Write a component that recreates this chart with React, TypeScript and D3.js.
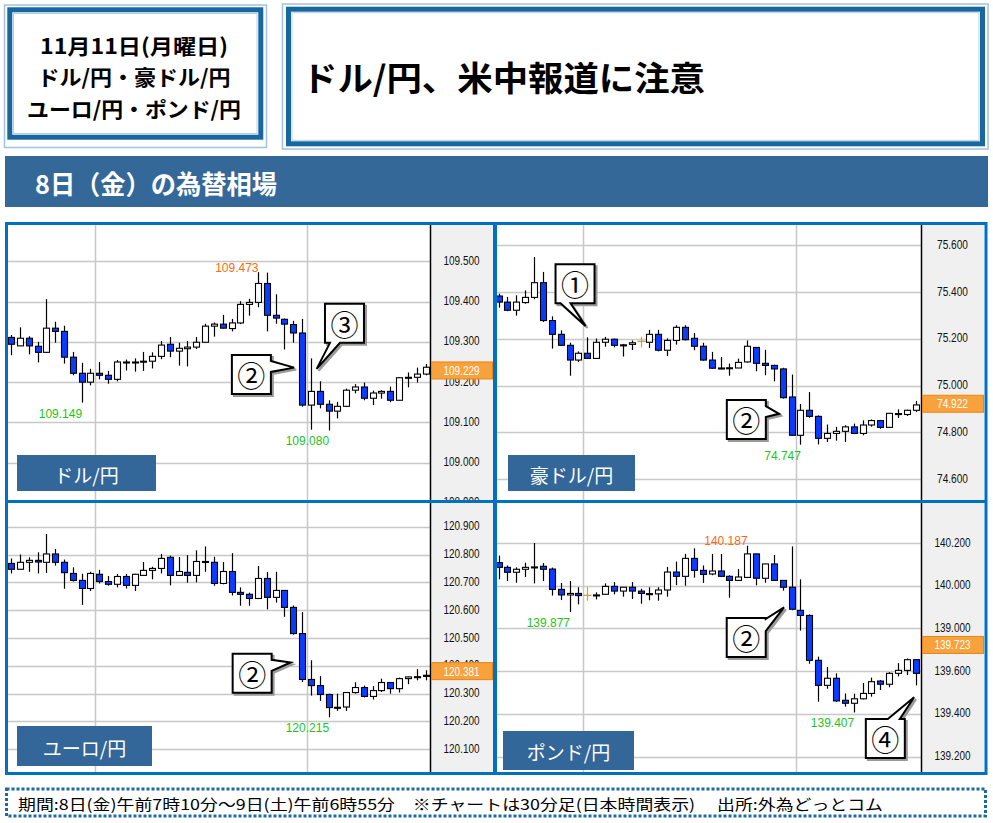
import React from 'react';
import * as d3 from 'd3';

// ---------- DATA ----------
const usdjpyOpen = [109.311,109.290,109.309,109.289,109.274,109.334,109.326,109.262,109.222,109.200,109.222,109.217,109.207,109.250,109.249,109.250,109.252,109.264,109.294,109.277,109.283,109.287,109.299,109.339,109.344,109.333,109.347,109.393,109.398,109.445,109.366,109.356,109.343,109.322,109.143,109.177,109.145,109.128,109.140,109.180,109.188,109.160,109.173,109.177,109.155,109.211,109.212,109.220];
const usdjpyHigh = [109.317,109.336,109.314,109.300,109.406,109.350,109.340,109.275,109.248,109.233,109.250,109.228,109.255,109.256,109.259,109.275,109.274,109.302,109.312,109.298,109.302,109.312,109.345,109.348,109.367,109.357,109.401,109.407,109.473,109.472,109.418,109.358,109.352,109.357,109.259,109.202,109.155,109.151,109.184,109.195,109.199,109.179,109.180,109.189,109.212,109.224,109.236,109.245];
const usdjpyLow = [109.267,109.290,109.269,109.249,109.273,109.298,109.246,109.217,109.149,109.192,109.207,109.196,109.202,109.229,109.226,109.228,109.234,109.257,109.262,109.241,109.239,109.282,109.299,109.313,109.333,109.326,109.344,109.365,109.386,109.326,109.345,109.281,109.298,109.139,109.082,109.135,109.080,109.110,109.138,109.172,109.155,109.143,109.159,109.150,109.155,109.187,109.199,109.217];
const usdjpyClose = [109.294,109.309,109.290,109.274,109.334,109.326,109.262,109.222,109.200,109.222,109.217,109.207,109.250,109.249,109.250,109.252,109.264,109.292,109.277,109.284,109.287,109.299,109.339,109.344,109.334,109.347,109.393,109.398,109.445,109.366,109.359,109.344,109.322,109.143,109.177,109.145,109.128,109.140,109.180,109.188,109.160,109.173,109.177,109.155,109.211,109.212,109.220,109.237];

const audjpyOpen = [75.383,75.357,75.322,75.355,75.377,75.440,75.278,75.219,75.172,75.109,75.138,75.116,75.185,75.198,75.174,75.176,75.189,75.185,75.219,75.151,75.193,75.249,75.202,75.168,75.109,75.075,75.075,75.075,75.101,75.163,75.095,75.086,75.071,74.951,74.787,74.894,74.868,74.774,74.795,74.804,74.823,74.795,74.831,74.850,74.821,74.880,74.876,74.894];
const audjpyHigh = [75.393,75.379,75.386,75.407,75.550,75.486,75.296,75.236,75.183,75.146,75.206,75.201,75.208,75.201,75.178,75.193,75.209,75.238,75.238,75.202,75.258,75.258,75.225,75.183,75.144,75.122,75.094,75.115,75.193,75.163,75.153,75.089,75.076,75.047,74.921,74.972,74.872,74.833,74.823,74.830,74.837,74.851,74.855,74.853,74.882,74.898,74.897,74.934];
const audjpyLow = [75.333,75.318,75.299,75.350,75.369,75.272,75.158,75.169,75.042,75.101,75.114,75.116,75.166,75.163,75.124,75.152,75.163,75.161,75.146,75.126,75.175,75.193,75.151,75.106,75.071,75.069,75.042,75.075,75.098,75.061,75.044,75.018,74.944,74.784,74.747,74.862,74.748,74.758,74.764,74.758,74.792,74.787,74.824,74.815,74.820,74.861,74.870,74.887];
const audjpyClose = [75.357,75.322,75.357,75.377,75.440,75.278,75.219,75.172,75.109,75.138,75.116,75.185,75.198,75.172,75.173,75.183,75.189,75.219,75.151,75.193,75.249,75.196,75.168,75.109,75.074,75.074,75.076,75.099,75.168,75.095,75.086,75.071,74.948,74.787,74.894,74.868,74.774,74.795,74.804,74.823,74.795,74.831,74.850,74.821,74.881,74.877,74.894,74.917];

const eurjpyOpen = [120.768,120.747,120.772,120.779,120.772,120.802,120.772,120.732,120.707,120.678,120.729,120.703,120.693,120.721,120.689,120.725,120.743,120.750,120.790,120.725,120.736,120.725,120.775,120.772,120.696,120.739,120.664,120.657,120.642,120.714,120.646,120.671,120.610,120.516,120.351,120.329,120.297,120.251,120.252,120.304,120.322,120.290,120.311,120.340,120.318,120.354,120.360,120.362];
const eurjpyHigh = [120.786,120.800,120.790,120.808,120.874,120.820,120.782,120.754,120.731,120.738,120.745,120.723,120.730,120.730,120.731,120.773,120.756,120.802,120.796,120.791,120.798,120.815,120.829,120.792,120.773,120.805,120.682,120.663,120.759,120.737,120.738,120.671,120.617,120.593,120.420,120.363,120.300,120.300,120.305,120.341,120.329,120.327,120.354,120.342,120.358,120.361,120.388,120.384];
const eurjpyLow = [120.732,120.747,120.738,120.732,120.734,120.760,120.677,120.703,120.619,120.669,120.696,120.688,120.682,120.678,120.669,120.723,120.711,120.732,120.689,120.725,120.699,120.700,120.738,120.688,120.693,120.653,120.616,120.616,120.640,120.603,120.627,120.576,120.512,120.342,120.293,120.274,120.215,120.238,120.238,120.300,120.286,120.279,120.306,120.300,120.304,120.334,120.348,120.348];
const eurjpyClose = [120.747,120.772,120.779,120.773,120.802,120.772,120.735,120.707,120.678,120.732,120.703,120.693,120.721,120.689,120.729,120.743,120.750,120.786,120.725,120.739,120.725,120.775,120.774,120.696,120.739,120.664,120.657,120.642,120.714,120.646,120.671,120.610,120.516,120.351,120.329,120.297,120.250,120.250,120.304,120.322,120.290,120.311,120.340,120.318,120.354,120.360,120.361,120.366];

const gbpjpyOpen = [140.108,140.086,140.063,140.077,140.087,140.091,140.078,139.983,139.957,139.964,139.955,139.955,139.960,139.997,139.975,139.993,139.975,139.963,139.962,139.980,140.064,140.044,140.128,140.072,140.055,140.069,140.044,140.025,140.039,140.149,140.035,140.102,140.025,139.993,139.885,139.861,139.651,139.534,139.567,139.464,139.450,139.471,139.496,139.554,139.539,139.590,139.604,139.654];
const gbpjpyHigh = [140.141,140.095,140.086,140.108,140.200,140.106,140.085,140.013,140.022,139.993,139.993,139.969,140.011,140.017,139.994,140.017,139.986,139.993,139.993,140.088,140.113,140.149,140.175,140.095,140.149,140.149,140.049,140.078,140.187,140.150,140.103,140.144,140.026,140.184,140.030,139.866,139.668,139.620,139.590,139.496,139.495,139.545,139.570,139.559,139.596,139.638,139.660,139.657];
const gbpjpyLow = [140.030,140.022,140.014,140.041,140.011,140.022,139.954,139.933,139.877,139.913,139.930,139.936,139.960,139.960,139.949,139.938,139.916,139.932,139.930,139.949,140.003,140.000,140.038,140.013,140.049,140.041,139.944,140.025,140.036,140.002,140.014,140.022,139.977,139.885,139.790,139.635,139.457,139.518,139.456,139.434,139.407,139.468,139.481,139.512,139.525,139.576,139.582,139.534];
const gbpjpyClose = [140.086,140.063,140.077,140.086,140.088,140.077,139.983,139.957,139.964,139.954,139.955,139.957,139.997,139.975,139.993,139.975,139.964,139.962,139.980,140.064,140.044,140.128,140.072,140.053,140.069,140.044,140.025,140.041,140.149,140.035,140.102,140.025,139.993,139.890,139.861,139.651,139.534,139.567,139.461,139.450,139.471,139.496,139.551,139.539,139.590,139.604,139.654,139.590];

const pairNames = ['ドル/円', '豪ドル/円', 'ユーロ/円', 'ポンド/円'];
const lastPrices = [109.229, 74.922, 120.381, 139.723];
const lastPriceLabels = ['109.229', '74.922', '120.381', '139.723'];

const usdjpyTicks = [109.5, 109.4, 109.3, 109.2, 109.1, 109.0, 108.9];
const usdjpyTickLabels = ['109.500', '109.400', '109.300', '109.200', '109.100', '109.000', '108.900'];
const audjpyTicks = [75.6, 75.4, 75.2, 75.0, 74.8, 74.6];
const audjpyTickLabels = ['75.600', '75.400', '75.200', '75.000', '74.800', '74.600'];
const eurjpyTicks = [120.9, 120.8, 120.7, 120.6, 120.5, 120.4, 120.3, 120.2, 120.1, 120.0];
const eurjpyTickLabels = ['120.900', '120.800', '120.700', '120.600', '120.500', '120.400', '120.300', '120.200', '120.100', '120.000'];
const gbpjpyTicks = [140.2, 140.0, 139.8, 139.6, 139.4, 139.2];
const gbpjpyTickLabels = ['140.200', '140.000', '139.000', '139.600', '139.400', '139.200'];

// high / low markers: [candle index, value, kind]
const usdjpyMarks: [number, number, string][] = [[28, 109.473, 'high'], [8, 109.149, 'low'], [36, 109.080, 'low']];
const audjpyMarks: [number, number, string][] = [[34, 74.747, 'low']];
const eurjpyMarks: [number, number, string][] = [[36, 120.215, 'low']];
const gbpjpyMarks: [number, number, string][] = [[28, 140.187, 'high'], [8, 139.877, 'low'], [40, 139.407, 'low']];

// callouts: [label, tip candle index, tip value, box dx, box dy, side]
const usdjpyNotes: [string, number, number, number, number, string][] = [['②', 32.1, 109.236, -62.3, -12.7, 'right'], ['③', 34.65, 109.233, 8.3, -65, 'bottom']];
const audjpyNotes: [string, number, number, number, number, string][] = [['①', 9.8, 75.255, -30, -61.7, 'bottom'], ['②', 31.6, 74.879, -52.3, -13.7, 'right']];
const eurjpyNotes: [string, number, number, number, number, string][] = [['②', 31.7, 120.412, -58, -8.7, 'right']];
const gbpjpyNotes: [string, number, number, number, number, string][] = [['②', 32.15, 139.899, -57.3, 10.7, 'rightTop'], ['④', 46.8, 139.478, -48.3, 21.7, 'top']];

const gridIdx = [9.5, 33.5];

// ---------- LAYOUT ----------
const panels = [
  { name: pairNames[0], o: usdjpyOpen, h: usdjpyHigh, l: usdjpyLow, c: usdjpyClose, ticks: usdjpyTicks, tl: usdjpyTickLabels, marks: usdjpyMarks, notes: usdjpyNotes, last: lastPrices[0], lastL: lastPriceLabels[0],
    x0: 8, x1: 493, y0: 225, y1: 500, axisX: 430, c0: 11.05, c47: 425.6, dom: [109.0, 109.5], rng: [462.7, 261.3], lab: [17, 455, 139, 36] },
  { name: pairNames[1], o: audjpyOpen, h: audjpyHigh, l: audjpyLow, c: audjpyClose, ticks: audjpyTicks, tl: audjpyTickLabels, marks: audjpyMarks, notes: audjpyNotes, last: lastPrices[1], lastL: lastPriceLabels[1],
    x0: 497, x1: 984, y0: 225, y1: 500, axisX: 921, c0: 498.5, c47: 915.9, dom: [74.6, 75.6], rng: [479, 245.3], lab: [508, 455, 127, 36] },
  { name: pairNames[2], o: eurjpyOpen, h: eurjpyHigh, l: eurjpyLow, c: eurjpyClose, ticks: eurjpyTicks, tl: eurjpyTickLabels, marks: eurjpyMarks, notes: eurjpyNotes, last: lastPrices[2], lastL: lastPriceLabels[2],
    x0: 8, x1: 493, y0: 503, y1: 772, axisX: 430, c0: 11.05, c47: 425.6, dom: [120.1, 120.9], rng: [749.3, 526.7], lab: [17, 726, 135, 40] },
  { name: pairNames[3], o: gbpjpyOpen, h: gbpjpyHigh, l: gbpjpyLow, c: gbpjpyClose, ticks: gbpjpyTicks, tl: gbpjpyTickLabels, marks: gbpjpyMarks, notes: gbpjpyNotes, last: lastPrices[3], lastL: lastPriceLabels[3],
    x0: 497, x1: 984, y0: 503, y1: 772, axisX: 921, c0: 498.5, c47: 915.9, dom: [139.2, 140.2], rng: [756.7, 543], lab: [503, 731, 131, 39] },
];

const NUM_FONT = '"Liberation Sans", Arial, sans-serif';
const JP_FONT = '"Noto Sans CJK JP", "Noto Sans", sans-serif';
const BEAR = '#0a3cff';
const GOLD = '#c9a040';

function calloutPath(tx: number, ty: number, bx: number, by: number, side: string) {
  const w = 39, hh = 39;
  const L = bx, T = by, R = bx + w, B = by + hh;
  if (side === 'right') return `M${L},${T}L${R},${T}L${R},${T + 6}L${tx},${ty}L${R},${T + 17}L${R},${B}L${L},${B}Z`;
  if (side === 'rightTop') return `M${L},${T}L${R},${T}L${R},${T + 1}L${tx},${ty}L${R},${T + 13}L${R},${B}L${L},${B}Z`;
  if (side === 'bottom') return `M${L},${T}L${R},${T}L${R},${B}L${L + 15},${B}L${tx},${ty}L${L + 5},${B}L${L},${B}Z`;
  return `M${L},${T}L${L + 22},${T}L${tx},${ty}L${L + 34},${T}L${R},${T}L${R},${B}L${L},${B}Z`;
}

function Panel({ p, idx }: { p: any; idx: number }) {
  const x = d3.scaleLinear().domain([0, 47]).range([p.c0, p.c47]);
  const y = d3.scaleLinear().domain(p.dom).range(p.rng);
  const clipId = `clip${idx}`;
  const tickX = p.axisX + (p.x1 - p.axisX) / 2;
  return (
    <g>
      <defs>
        <clipPath id={clipId}><rect x={p.x0} y={p.y0} width={p.x1 - p.x0} height={p.y1 - p.y0} /></clipPath>
        <clipPath id={clipId + 'p'}><rect x={p.x0} y={p.y0} width={p.axisX - p.x0} height={p.y1 - p.y0} /></clipPath>
      </defs>
      <g clipPath={`url(#${clipId})`}>
        <rect x={p.x0} y={p.y0} width={p.x1 - p.x0} height={p.y1 - p.y0} fill="#fff" />
        {p.ticks.map((t: number, i: number) => (
          <line key={'h' + i} x1={p.x0} x2={p.axisX} y1={Math.round(y(t)) + 0.5} y2={Math.round(y(t)) + 0.5} stroke="#c8c8c8" strokeWidth={1.5} />
        ))}
        {gridIdx.map((g, i) => (
          <line key={'v' + i} x1={Math.round(x(g)) + 0.5} x2={Math.round(x(g)) + 0.5} y1={p.y0} y2={p.y1} stroke="#c8c8c8" strokeWidth={1.5} />
        ))}
        <g clipPath={`url(#${clipId}p)`}>
          {p.o.map((o: number, i: number) => {
            const c = p.c[i], hi = p.h[i], lo = p.l[i];
            const cx = Math.round(x(i)) + 0.5;
            if (o === c) {
              return (
                <g key={i}>
                  <line x1={cx} x2={cx} y1={y(hi)} y2={y(lo)} stroke={GOLD} strokeWidth={1.2} />
                  <line x1={cx - 4} x2={cx + 4} y1={y(o)} y2={y(o)} stroke={GOLD} strokeWidth={1.3} />
                </g>
              );
            }
            const top = Math.min(y(o), y(c));
            const hgt = Math.max(1, Math.abs(y(o) - y(c)));
            return (
              <g key={i}>
                <line x1={cx} x2={cx} y1={y(hi)} y2={y(lo)} stroke="#000" strokeWidth={1.2} />
                <rect x={cx - 3} y={top} width={6} height={hgt} fill={c > o ? '#fff' : BEAR} stroke="#000" strokeWidth={1.1} />
              </g>
            );
          })}
          {p.marks.map((m: [number, number, string], i: number) => (
            <text key={'m' + i} x={x(m[0]) + 0.5} y={m[2] === 'high' ? y(m[1]) - 4.5 : y(m[1]) + 11}
              textAnchor="end" dominantBaseline="central" fontFamily={NUM_FONT} fontSize={12}
              fill={m[2] === 'high' ? '#ff6a10' : '#1cc41c'}>{m[1].toFixed(3)}</text>
          ))}
        </g>
        <rect x={p.axisX} y={p.y0} width={p.x1 - p.axisX} height={p.y1 - p.y0} fill="#f0f0f0" />
        <line x1={p.axisX + 0.5} x2={p.axisX + 0.5} y1={p.y0} y2={p.y1} stroke="#000" strokeWidth={1.5} />
        {p.ticks.map((t: number, i: number) => (
          <text key={'t' + i} x={tickX} y={y(t) - 1} textAnchor="middle" dominantBaseline="central"
            fontFamily={NUM_FONT} fontSize={13} textLength={p.tl[i].length === 7 ? 36 : 31} lengthAdjust="spacingAndGlyphs" fill="#111">{p.tl[i]}</text>
        ))}
        <rect x={p.axisX + 1.5} y={y(p.last) - 8.5} width={p.x1 - p.axisX - 2} height={17} fill="#f7a23c" stroke="#ea8414" strokeWidth={1} />
        <text x={tickX} y={y(p.last)} textAnchor="middle" dominantBaseline="central" fontFamily={NUM_FONT}
          fontSize={13} textLength={p.lastL.length === 7 ? 36 : 31} lengthAdjust="spacingAndGlyphs" fill="#fff">{p.lastL}</text>
        {p.notes.map((n: [string, number, number, number, number, string], i: number) => {
          const tx = x(n[1]), ty = y(n[2]);
          const bx = tx + n[3], by = ty + n[4];
          const d = calloutPath(tx, ty, bx, by, n[5]);
          return (
            <g key={'n' + i}>
              <path d={d} transform="translate(2,2)" fill="#9a9a9a" stroke="#9a9a9a" strokeWidth={2} strokeLinejoin="miter" />
              <path d={d} fill="#fff" stroke="#000" strokeWidth={2} strokeLinejoin="miter" />
              <text x={bx + 19.5} y={by + 20} textAnchor="middle" dominantBaseline="central" fontFamily={JP_FONT} fontSize={28} fill="#000">{n[0]}</text>
            </g>
          );
        })}
        <rect x={p.lab[0]} y={p.lab[1]} width={p.lab[2]} height={p.lab[3]} fill="#336699" />
        <text x={p.lab[0] + p.lab[2] / 2} y={p.lab[1] + p.lab[3] / 2 + 1} textAnchor="middle" dominantBaseline="central"
          fontFamily={JP_FONT} fontSize={19} fill="#fff">{p.name}</text>
      </g>
    </g>
  );
}

export default function App() {
  return (
    <svg width={993} height={823} style={{ position: 'absolute', left: 0, top: 0, background: '#fff' }}>
      <rect x={0} y={0} width={993} height={823} fill="#fff" />
      {/* header left box */}
      <rect x={4.5} y={5} width={262} height={142.5} fill="#fff" stroke="#a3c2dd" strokeWidth={1.5} />
      <rect x={9.8} y={9.8} width={251} height={127.4} fill="none" stroke="#16689e" strokeWidth={5} />
      <rect x={13.5} y={13.5} width={243.5} height={120} fill="none" stroke="#b8d0e5" strokeWidth={1} />
      <g fontFamily={JP_FONT} fontWeight={700} fontSize={21} fill="#000" textAnchor="middle">
        <text x={134} y={45} dominantBaseline="central" textLength={188} lengthAdjust="spacingAndGlyphs">11月11日(月曜日)</text>
        <text x={134} y={76} dominantBaseline="central" textLength={193} lengthAdjust="spacingAndGlyphs">ドル/円・豪ドル/円</text>
        <text x={134} y={108} dominantBaseline="central" textLength={214} lengthAdjust="spacingAndGlyphs">ユーロ/円・ポンド/円</text>
      </g>
      {/* header right box */}
      <rect x={282.5} y={4} width={705.5} height={145} fill="#fff" stroke="#a3c2dd" strokeWidth={1.5} />
      <rect x={288.5} y={9.2} width={694} height={134.6} fill="none" stroke="#16689e" strokeWidth={5} />
      <rect x={292} y={12.7} width={687} height={127.6} fill="none" stroke="#b8d0e5" strokeWidth={1} />
      <text x={302} y={76} dominantBaseline="central" fontFamily={JP_FONT} fontWeight={700} fontSize={34} fill="#000"
        textLength={403} lengthAdjust="spacingAndGlyphs">ドル/円、米中報道に注意</text>
      {/* banner */}
      <rect x={5} y={156} width={983} height={51} fill="#346898" />
      <text x={35} y={182} dominantBaseline="central" fontFamily={JP_FONT} fontWeight={700} fontSize={26} fill="#fff"
        textLength={242} lengthAdjust="spacingAndGlyphs">8日（金）の為替相場</text>
      {/* chart panels */}
      {panels.map((p, i) => <Panel key={i} p={p} idx={i} />)}
      {/* frame */}
      <rect x={6.5} y={223.5} width={979.5} height={550} fill="none" stroke="#0070c0" strokeWidth={3} />
      <rect x={493} y={222} width={4} height={553} fill="#0070c0" />
      <rect x={5} y={500} width={982} height={3} fill="#0070c0" />
      {/* footer */}
      <rect x={6.5} y={789} width={979} height={27} fill="#fff" stroke="#1a6ba0" strokeWidth={3} strokeDasharray="3 2" />
      <text x={18} y={803} dominantBaseline="central" fontFamily={JP_FONT} fontSize={15} fill="#000"
        textLength={865} lengthAdjust="spacingAndGlyphs">期間:8日(金)午前7時10分～9日(土)午前6時55分　※チャートは30分足(日本時間表示)　 出所:外為どっとコム</text>
    </svg>
  );
}
